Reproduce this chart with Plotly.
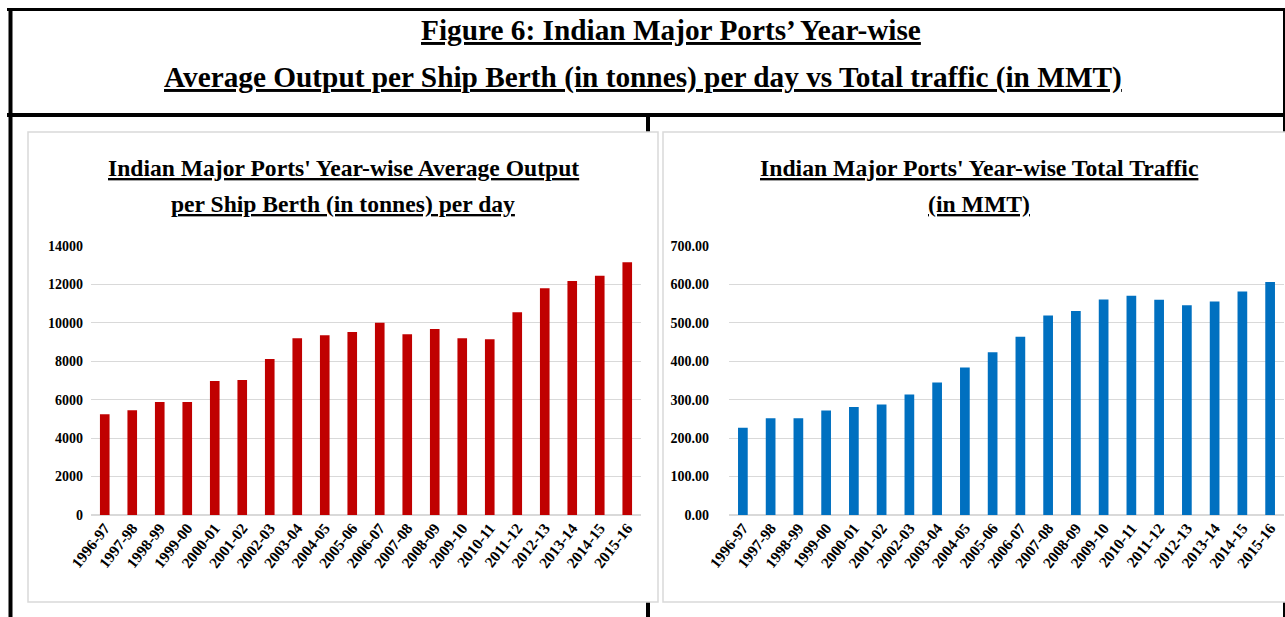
import plotly.graph_objects as go

years = ["1996-97", "1997-98", "1998-99", "1999-00", "2000-01", "2001-02", "2002-03",
         "2003-04", "2004-05", "2005-06", "2006-07", "2007-08", "2008-09", "2009-10",
         "2010-11", "2011-12", "2012-13", "2013-14", "2014-15", "2015-16"]
output_per_berth = [5240, 5450, 5880, 5880, 6975, 7025, 8120, 9195, 9350, 9525,
                    10010, 9405, 9680, 9195, 9145, 10550, 11800, 12180, 12455, 13150]
total_traffic = [227.13, 251.66, 251.72, 271.92, 281.13, 287.58, 313.55, 344.80, 383.75,
                 423.56, 463.78, 519.31, 530.53, 561.09, 570.32, 560.13, 545.79, 555.49,
                 581.34, 606.37]

W, H = 1285, 617
FONT = "Liberation Serif"


def px(x):
    return x / W


def py(y):
    return 1 - y / H


fig = go.Figure()
fig.add_trace(go.Bar(x=years, y=output_per_berth, marker_color="#C00000",
                     marker_line_width=0, xaxis="x", yaxis="y"))
fig.add_trace(go.Bar(x=years, y=total_traffic, marker_color="#0070C0",
                     marker_line_width=0, xaxis="x2", yaxis="y2"))

xtickfont = dict(family=FONT, size=15.5, color="black", weight="bold")
ytickfont = dict(family=FONT, size=14, color="black", weight="bold")
common_x = dict(tickangle=-52, tickfont=xtickfont, showgrid=False, showline=False,
                ticks="", fixedrange=True, type="category", automargin=False)
common_y = dict(tickfont=ytickfont, showgrid=True, gridcolor="#d9d9d9", gridwidth=1,
                zeroline=True, zerolinecolor="#d9d9d9", zerolinewidth=1.5,
                showline=False, ticks="", fixedrange=True, automargin=False)

fig.update_layout(
    width=W, height=H,
    margin=dict(l=0, r=0, t=0, b=0, pad=0, autoexpand=False),
    paper_bgcolor="white", plot_bgcolor="rgba(0,0,0,0)",
    showlegend=False,
    bargap=0.65,
    xaxis=dict(domain=[px(91), px(641)], anchor="y", **common_x),
    yaxis=dict(domain=[py(515), py(246)], anchor="x", range=[0, 14000], dtick=2000,
               tickformat="d", ticklabelstandoff=7, **common_y),
    xaxis2=dict(domain=[px(729), px(1284)], anchor="y2", **common_x),
    yaxis2=dict(domain=[py(515), py(246)], anchor="x2", range=[0, 700], dtick=100,
                tickformat=".2f", ticklabelstandoff=19, **common_y),
)

shapes = []
black = "black"
# outer frame lines
shapes.append(dict(type="line", xref="paper", yref="paper", x0=px(7), x1=px(1285),
                   y0=py(9.5), y1=py(9.5), line=dict(color=black, width=3), layer="below"))
shapes.append(dict(type="line", xref="paper", yref="paper", x0=px(7), x1=px(1285),
                   y0=py(115), y1=py(115), line=dict(color=black, width=4), layer="below"))
shapes.append(dict(type="line", xref="paper", yref="paper", x0=px(10.5), x1=px(10.5),
                   y0=py(8), y1=py(617), line=dict(color=black, width=4), layer="below"))
shapes.append(dict(type="line", xref="paper", yref="paper", x0=px(1284), x1=px(1284),
                   y0=py(8), y1=py(617), line=dict(color=black, width=2), layer="below"))
shapes.append(dict(type="line", xref="paper", yref="paper", x0=px(648), x1=px(648),
                   y0=py(115), y1=py(617), line=dict(color=black, width=4), layer="below"))
# chart boxes
shapes.append(dict(type="rect", xref="paper", yref="paper", x0=px(28), x1=px(658),
                   y0=py(602), y1=py(132), fillcolor="white",
                   line=dict(color="#d9d9d9", width=1.5), layer="below"))
shapes.append(dict(type="rect", xref="paper", yref="paper", x0=px(663), x1=px(1300),
                   y0=py(602), y1=py(132), fillcolor="white",
                   line=dict(color="#d9d9d9", width=1.5), layer="below"))
fig.update_layout(shapes=shapes)

ann = []


def title(text, x, y, size):
    ann.append(dict(text="<b><u>" + text + "</u></b>", x=px(x), y=py(y), xref="paper",
                    yref="paper", showarrow=False, xanchor="center", yanchor="middle",
                    font=dict(family=FONT, size=size, color="black")))


title("Figure 6: Indian Major Ports’ Year-wise", 671, 30, 29.3)
title("Average Output per Ship Berth (in tonnes) per day vs Total traffic (in MMT)", 643, 78, 29.3)
title("Indian Major Ports' Year-wise Average Output", 343, 168, 23.6)
title("per Ship Berth (in tonnes) per day", 343, 204, 23.6)
title("Indian Major Ports' Year-wise Total Traffic", 979, 168, 23.7)
title("(in MMT)", 979, 204, 23.7)
fig.update_layout(annotations=ann)

fig.write_html("out.html")
